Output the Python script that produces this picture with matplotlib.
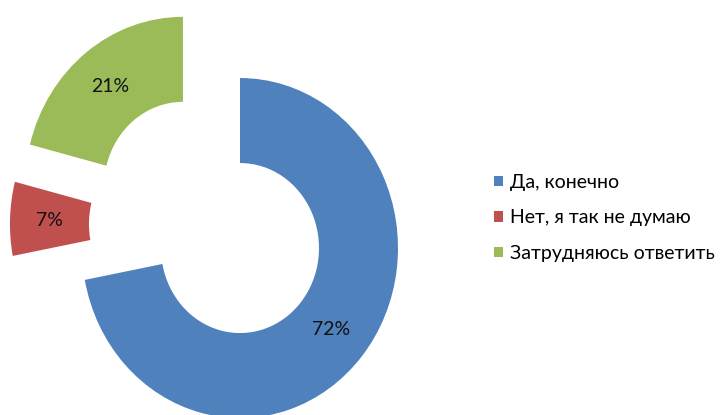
import matplotlib

matplotlib.use("Agg")

import matplotlib.pyplot as plt

labels = ["Да, конечно", "Нет, я так не думаю", "Затрудняюсь ответить"]
shares = [72, 7, 21]
colors = ["#4F81BD", "#C0504D", "#9BBB59"]
# how far each slice is pulled out of the ring (data units)
offsets = [(0.0, 0.0), (-0.456, 0.141), (-0.361, 0.36)]

plt.rcParams["font.family"] = ["Lato", "DejaVu Sans"]

fig = plt.figure(figsize=(7.2, 4.15), dpi=100)
ax = fig.add_axes([0, 0, 1, 1])

wedges, _, autotexts = ax.pie(
    shares,
    colors=colors,
    startangle=90,
    counterclock=False,
    autopct="%d%%",
    pctdistance=0.75,
    wedgeprops=dict(width=0.5, linewidth=0),
    textprops=dict(fontsize=14, color="#111111"),
    normalize=True,
)
for w, t, (dx, dy) in zip(wedges, autotexts, offsets):
    cx, cy = w.center
    w.set_center((cx + dx, cy + dy))
    tx, ty = t.get_position()
    t.set_position((tx + dx, ty + dy))

# the source image is stretched a little vertically
ax.set_aspect("auto")
ax.set_xlim(-1.519, 3.038)
ax.set_ylim(-0.982, 1.459)
ax.axis("off")

fig.legend(
    wedges,
    labels,
    loc="center left",
    bbox_to_anchor=(0.662, 0.475),
    frameon=False,
    fontsize=14,
    handlelength=0.45,
    handleheight=0.45,
    handletextpad=0.35,
    labelspacing=0.95,
)

fig.savefig("out.png", dpi=100)
